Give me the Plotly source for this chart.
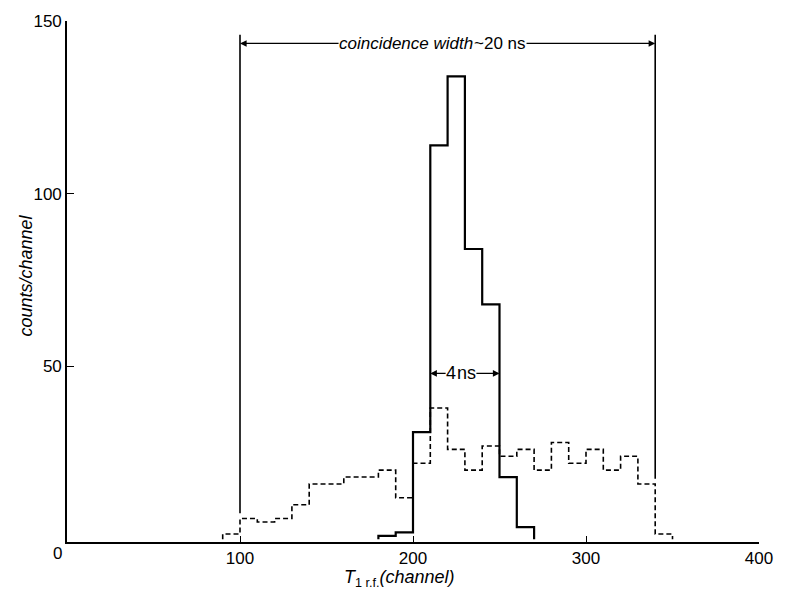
import plotly.graph_objects as go

# ---- data ----
bin_width = 10
# solid histogram (true coincidences)
solid_start = 180
solid_counts = [1, 2, 31, 114, 134, 84, 68, 18, 3.5]
# dashed histogram (random coincidences)
dashed_start = 90
dashed_counts = [1.5, 6, 5, 6, 10, 16, 16, 18, 18, 20, 12,
                 22, 38, 26, 20, 27, 24, 26, 20, 28, 22, 26, 20, 24, 16, 1.5]
# coincidence window edges (channel)
window_edges = [100, 340]
window_line_bottom = [7.5, 17.5]
window_line_top = 146
fwhm_edges = [210, 250]

x_ticks = [100, 200, 300, 400]
y_ticks = [50, 100, 150]


def step_xy(start, counts):
    edges = [start + i * bin_width for i in range(len(counts) + 1)]
    xs = [edges[0]] + edges[:-1] + [edges[-1]]
    ys = [0] + list(counts) + [0]
    return xs, ys


FONT = "Liberation Sans"
fig = go.Figure()

xs, ys = step_xy(dashed_start, dashed_counts)
fig.add_trace(go.Scatter(x=xs, y=ys, mode="lines", line_shape="hv",
                         line=dict(color="black", width=1.6, dash="5px,3px"),
                         hoverinfo="skip", showlegend=False))
xs, ys = step_xy(solid_start, solid_counts)
fig.add_trace(go.Scatter(x=xs, y=ys, mode="lines", line_shape="hv",
                         line=dict(color="black", width=2.2),
                         hoverinfo="skip", showlegend=False))

shapes = []
for xe, yb in zip(window_edges, window_line_bottom):
    shapes.append(dict(type="line", xref="x", yref="y", x0=xe, x1=xe,
                       y0=yb, y1=window_line_top,
                       line=dict(color="black", width=1.6)))

annotations = []
arrow_y = 143.5
arrow_style = dict(showarrow=True, arrowhead=2, arrowsize=1.1, arrowwidth=1.2,
                   arrowcolor="black", xref="x", yref="y", axref="x",
                   ayref="y", yanchor="middle", borderpad=0)
# coincidence width: left part of the label points to the left window edge
annotations.append(dict(text="<i>coincidence width</i>", x=window_edges[0],
                        y=arrow_y, ax=235.3, ay=arrow_y, xanchor="right",
                        font=dict(family=FONT, size=17, color="black"),
                        **arrow_style))
annotations.append(dict(text="~20 ns", x=window_edges[1], y=arrow_y,
                        ax=234.7, ay=arrow_y, xanchor="left",
                        font=dict(family=FONT, size=17, color="black"),
                        **arrow_style))
# 4 ns
fw_y = 48
annotations.append(dict(text="4", x=fwhm_edges[0], y=fw_y, ax=225.5,
                        ay=fw_y, xanchor="right",
                        font=dict(family=FONT, size=18, color="black"),
                        **arrow_style))
annotations.append(dict(text="ns", x=fwhm_edges[1], y=fw_y, ax=224.8,
                        ay=fw_y, xanchor="left",
                        font=dict(family=FONT, size=18, color="black"),
                        **arrow_style))

W, H = 785, 591
L, R, T, B = 67, 16, 19, 49


def px_to_paper(px, py):
    return (px - L) / (W - L - R), 1 - (py - T) / (H - T - B)


for txt, px, py, size, angle in [
        ("0", 57, 554, 17, 0),
        ("<i>counts/channel</i>", 25, 275, 18, -90),
        ("<i>T</i><sub>1 r.f.</sub><i>(channel)</i>", 404, 579, 18, 0)]:
    xp, yp = px_to_paper(px, py)
    annotations.append(dict(text=txt, x=xp, y=yp, xref="paper", yref="paper",
                            xanchor="center", yanchor="middle",
                            textangle=angle, showarrow=False,
                            font=dict(family=FONT, size=size, color="black")))

fig.update_layout(
    width=W, height=H,
    margin=dict(l=L, r=R, t=T, b=B),
    plot_bgcolor="white", paper_bgcolor="white",
    shapes=shapes, annotations=annotations,
    font=dict(family=FONT, size=17, color="black"),
    xaxis=dict(range=[0, 400], tickvals=x_ticks, ticks="inside", ticklen=6,
               tickwidth=1.2, tickcolor="black", showline=True,
               linecolor="black", linewidth=1.6, showgrid=False,
               zeroline=False, tickfont=dict(family=FONT, size=17)),
    yaxis=dict(range=[-0.8, 150], tickvals=y_ticks, ticks="inside",
               ticklen=7, tickwidth=1.2, tickcolor="black", showline=True,
               linecolor="black", linewidth=1.6, showgrid=False,
               zeroline=False, tickfont=dict(family=FONT, size=17)),
)

fig.write_html("out.html")
